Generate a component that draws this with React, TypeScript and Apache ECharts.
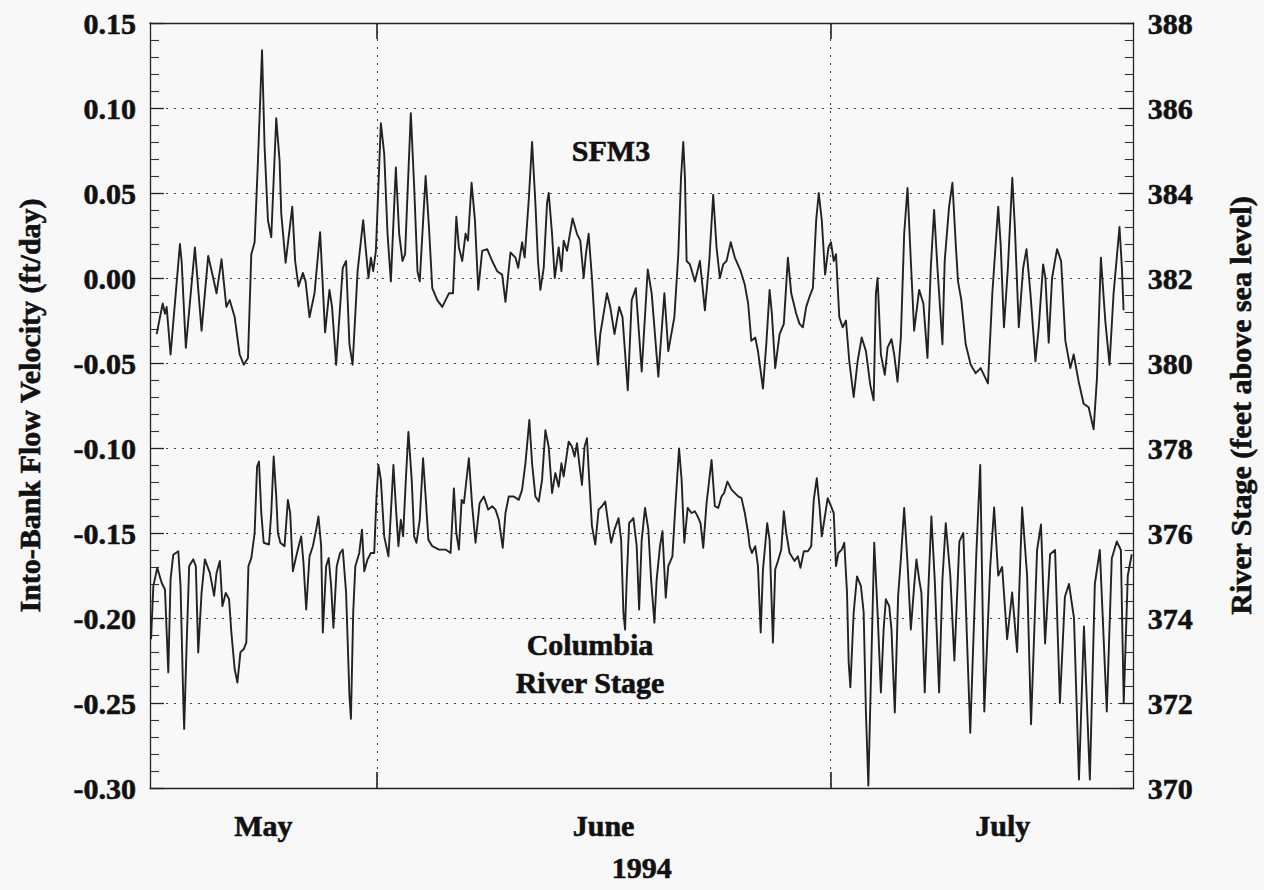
import React, { useEffect, useRef } from "react";
import * as echarts from "echarts";

// x values are days counted from May 1, 1994 (May 1 = 0, June 1 = 31, July 1 = 61)
const xMin = 16;
const xMax = 81.06;
const monthLabels = ["May", "June", "July"];
const monthLabelDays = [23.5, 46, 72.4];
const monthStartDays = [31, 61];
const yearLabel = "1994";
const leftTitle = "Into-Bank Flow Velocity (ft/day)";
const rightTitle = "River Stage (feet above sea level)";

// SFM3 into-bank flow velocity (ft/day): [day, value]
const sfm3: [number, number][] = [
  [16.44,-0.033],[16.84,-0.015],[16.99,-0.021],[17.10,-0.017],[17.36,-0.045],[17.98,0.020],[18.09,0.010],[18.37,-0.041],[18.97,0.018],[19.41,-0.031],[19.85,0.013],[20.18,0.000],[20.40,-0.009],[20.73,0.011],[21.05,-0.017],[21.27,-0.013],[21.60,-0.023],[21.93,-0.045],[22.20,-0.051],[22.48,-0.047],[22.70,0.014],[22.92,0.021],[23.14,0.069],[23.41,0.134],[23.58,0.077],[23.80,0.034],[24.02,0.024],[24.35,0.094],[24.57,0.069],[24.68,0.038],[24.97,0.009],[25.41,0.042],[25.60,0.010],[25.82,-0.005],[26.11,0.003],[26.29,-0.002],[26.55,-0.023],[26.88,-0.009],[27.25,0.027],[27.58,-0.032],[27.87,-0.007],[28.04,-0.017],[28.31,-0.051],[28.75,0.006],[28.97,0.010],[29.19,-0.039],
  [29.40,-0.051],[29.73,0.004],[30.10,0.034],[30.28,0.016],[30.45,0.000],[30.61,0.012],[30.76,0.004],[30.94,0.016],[31.27,0.091],[31.49,0.073],[31.71,0.026],[31.93,-0.002],[32.26,0.065],[32.48,0.026],[32.70,0.010],[32.87,0.014],[33.25,0.097],[33.47,0.054],[33.69,0.004],[33.84,-0.002],[34.23,0.060],[34.45,0.030],[34.67,-0.006],[35.00,-0.013],[35.33,-0.017],[35.77,-0.009],[36.04,-0.009],[36.26,0.036],[36.43,0.018],[36.65,0.010],[36.87,0.026],[37.03,0.022],[37.27,0.056],[37.49,0.034],[37.71,-0.007],[37.97,0.016],[38.30,0.017],[38.63,0.010],[38.96,0.004],[39.29,0.002],[39.51,-0.014],[39.84,0.015],[40.17,0.012],[40.35,0.006],[40.61,0.021],[40.78,0.012],[41.05,0.046],[41.27,0.080],[41.49,0.044],[41.66,0.010],[41.82,-0.007],[42.04,0.006],[42.26,0.044],
  [42.37,0.050],[42.59,0.026],[42.77,0.000],[42.92,0.010],[43.03,0.018],[43.21,0.004],[43.36,0.022],[43.58,0.016],[43.95,0.035],[44.24,0.026],[44.46,0.022],[44.68,0.000],[44.83,0.014],[45.01,0.026],[45.23,0.000],[45.45,-0.033],[45.62,-0.051],[45.78,-0.033],[46.22,-0.009],[46.44,-0.017],[46.72,-0.033],[47.03,-0.017],[47.25,-0.023],[47.60,-0.066],[47.86,-0.013],[48.13,-0.006],[48.52,-0.055],[48.92,0.005],[49.18,-0.009],[49.62,-0.058],[50.02,-0.009],[50.28,-0.043],[50.68,-0.023],[50.94,0.014],[51.12,0.059],[51.27,0.080],[51.38,0.059],[51.49,0.010],[51.71,0.008],[52.04,-0.002],[52.37,0.010],[52.70,-0.019],[52.99,0.010],[53.25,0.049],[53.47,0.018],[53.69,0.000],[53.91,0.008],[54.13,0.010],[54.41,0.021],[54.68,0.012],[55.07,0.004],[55.34,-0.004],[55.56,-0.015],
  [55.77,-0.037],[56.03,-0.035],[56.21,-0.043],[56.54,-0.065],[56.76,-0.039],[56.98,-0.007],[57.13,-0.021],[57.35,-0.053],[57.64,-0.033],[57.92,-0.027],[58.19,0.012],[58.41,-0.009],[58.74,-0.021],[58.96,-0.027],[59.18,-0.029],[59.40,-0.017],[59.62,-0.011],[59.84,-0.006],[60.06,0.034],[60.23,0.050],[60.43,0.034],[60.65,0.002],[60.87,0.018],[61.04,0.021],[61.22,0.010],[61.37,0.014],[61.59,-0.023],[61.81,-0.029],[62.03,-0.025],[62.25,-0.049],[62.54,-0.070],[62.80,-0.049],[63.07,-0.035],[63.35,-0.043],[63.64,-0.063],[63.86,-0.072],[64.01,-0.009],[64.12,0.000],[64.34,-0.045],[64.60,-0.057],[64.78,-0.041],[65.04,-0.036],[65.22,-0.045],[65.44,-0.061],[65.66,-0.035],[65.88,0.026],[66.10,0.053],[66.32,0.010],[66.54,-0.031],[66.87,-0.007],[67.15,-0.015],[67.42,-0.047],[67.64,0.006],[67.86,0.040],[68.08,0.006],[68.41,-0.039],
  [68.56,0.010],[68.85,0.042],[69.07,0.056],[69.29,0.020],[69.44,-0.002],[69.66,-0.013],[69.95,-0.039],[70.28,-0.051],[70.61,-0.056],[70.94,-0.053],[71.42,-0.062],[71.71,-0.009],[72.10,0.042],[72.26,0.020],[72.48,-0.029],[72.74,0.006],[73.03,0.059],[73.20,0.030],[73.46,-0.029],[73.75,0.006],[73.97,0.017],[74.23,-0.009],[74.56,-0.049],[74.78,-0.029],[75.07,0.008],[75.22,0.000],[75.44,-0.038],[75.66,0.000],[75.99,0.017],[76.26,0.010],[76.54,-0.037],[76.87,-0.053],[77.09,-0.045],[77.42,-0.061],[77.75,-0.074],[78.08,-0.076],[78.41,-0.089],[78.63,-0.059],[78.89,0.012],[79.18,-0.025],[79.46,-0.051],[79.73,-0.009],[80.12,0.030],[80.28,0.006],[80.39,-0.019],
];

// Columbia River stage (feet above sea level): [day, value]
const riverStage: [number, number][] = [
  [16.07,373.50],[16.22,374.75],[16.48,375.18],[16.77,374.83],[16.99,374.67],[17.21,372.72],[17.36,374.91],[17.54,375.49],[17.87,375.57],[18.02,374.75],[18.20,372.09],[18.26,371.39],[18.42,373.34],[18.59,375.22],[18.86,375.38],[19.03,375.22],[19.19,373.19],[19.41,374.59],[19.63,375.38],[19.96,375.06],[20.24,374.52],[20.40,375.06],[20.62,375.34],[20.79,374.28],[21.01,374.59],[21.23,374.44],[21.38,373.66],[21.60,372.80],[21.78,372.48],[21.98,373.19],[22.20,373.27],[22.37,373.42],[22.51,375.22],[22.70,375.41],[22.92,376.00],[23.08,377.56],[23.21,377.68],[23.36,376.47],[23.52,375.77],[23.87,375.73],[24.02,376.47],[24.18,377.80],[24.35,376.86],[24.46,376.00],[24.62,375.77],[24.90,375.69],[25.12,376.78],[25.27,376.47],[25.45,375.10],[25.67,375.45],[25.89,375.77],[26.00,375.92],[26.15,375.30],[26.33,374.20],[26.55,375.45],[26.77,375.69],[26.99,376.08],[27.14,376.39],[27.32,375.69],[27.43,373.66],[27.65,375.22],[27.82,375.41],[27.98,374.75],[28.13,373.77],[28.35,375.22],[28.57,375.53],[28.75,375.61],[28.97,374.59],[29.19,372.17],
  [29.29,371.63],[29.44,374.13],[29.58,375.22],[29.84,375.53],[30.02,376.08],[30.17,375.10],[30.39,375.38],[30.61,375.53],[30.83,375.53],[30.98,376.86],[31.11,377.60],[31.27,377.25],[31.49,375.92],[31.77,375.45],[31.93,376.47],[32.10,377.60],[32.26,376.63],[32.43,375.69],[32.59,376.31],[32.74,375.92],[32.92,377.25],[33.09,378.38],[33.31,377.25],[33.47,375.92],[33.62,375.77],[33.84,376.31],[34.06,377.76],[34.23,376.86],[34.41,375.84],[34.67,375.69],[35.11,375.61],[35.55,375.61],[35.88,375.53],[36.10,377.05],[36.26,376.00],[36.43,375.61],[36.61,376.78],[36.76,376.70],[37.09,377.76],[37.31,376.63],[37.53,375.77],[37.80,376.70],[38.08,376.86],[38.37,376.55],[38.63,376.63],[38.85,376.55],[39.07,376.31],[39.33,375.65],[39.51,376.47],[39.73,376.86],[40.06,376.86],[40.39,376.78],[40.61,377.02],[40.83,377.64],[41.09,378.66],[41.27,377.64],[41.49,376.86],[41.71,376.74],[41.93,377.25],[42.15,378.42],[42.37,378.03],
  [42.59,376.94],[42.81,377.41],[43.03,377.09],[43.21,377.64],[43.36,377.33],[43.69,378.15],[43.91,378.03],[44.08,377.80],[44.24,378.11],[44.39,377.64],[44.57,377.13],[44.74,378.03],[44.90,378.23],[45.05,377.25],[45.23,376.16],[45.45,375.73],[45.67,376.55],[45.89,376.63],[46.11,376.74],[46.33,376.16],[46.50,375.77],[46.72,376.08],[46.99,376.35],[47.16,375.84],[47.31,374.13],[47.42,373.73],[47.53,374.91],[47.69,376.23],[47.97,376.35],[48.19,375.69],[48.35,374.20],[48.52,375.84],[48.74,376.59],[48.96,376.08],[49.14,374.91],[49.36,373.89],[49.51,374.91],[49.73,375.69],[49.89,376.04],[50.11,374.48],[50.28,375.22],[50.55,375.45],[50.72,376.47],[50.99,377.99],[51.16,377.25],[51.34,375.77],[51.56,376.59],[51.82,376.47],[52.04,376.51],[52.22,376.39],[52.41,376.23],[52.59,375.65],[52.81,376.70],[53.14,377.72],[53.36,376.63],[53.58,376.59],[53.80,376.86],[53.97,376.94],[54.19,377.21],[54.46,377.02],[54.90,376.86],[55.12,376.82],[55.34,376.47],[55.56,376.00],
  [55.66,375.69],[55.81,375.53],[56.03,375.69],[56.21,375.22],[56.39,373.66],[56.54,375.14],[56.82,376.23],[56.98,375.84],[57.20,373.42],[57.35,375.14],[57.53,375.34],[57.75,375.61],[57.92,376.51],[58.08,376.00],[58.30,375.53],[58.63,375.34],[58.85,375.45],[59.02,375.18],[59.24,375.57],[59.51,375.57],[59.73,375.69],[59.90,376.78],[60.10,377.29],[60.28,376.63],[60.43,375.92],[60.60,376.31],[60.82,376.82],[61.04,376.63],[61.22,376.47],[61.37,375.22],[61.53,375.53],[61.75,375.61],[61.92,375.77],[62.10,374.59],[62.21,372.95],[62.32,372.37],[62.54,374.13],[62.76,374.98],[63.02,374.75],[63.20,374.13],[63.35,371.78],[63.51,370.06],[63.68,372.56],[63.90,375.77],[64.12,374.13],[64.34,372.25],[64.52,373.73],[64.67,374.44],[64.89,374.28],[65.04,373.73],[65.26,371.78],[65.48,374.52],[65.66,375.38],[65.88,376.59],[66.10,375.30],[66.32,373.73],[66.54,374.75],[66.69,375.38],[66.87,374.91],[67.02,374.59],[67.24,372.25],[67.46,374.52],[67.68,376.39],[67.90,374.91],[68.19,372.25],[68.41,374.91],[68.63,376.23],
  [68.93,375.0],[69.20,373.0],[69.53,375.8],[69.79,376.0],[70.25,371.3],[70.65,375.5],[70.91,377.6],[71.18,371.8],[71.57,375.2],[71.83,376.6],[72.10,375.0],[72.36,375.2],[72.69,373.5],[73.02,374.6],[73.35,373.2],[73.68,376.6],[74.01,375.0],[74.27,371.5],[74.67,375.6],[74.93,376.2],[75.20,373.4],[75.53,375.5],[75.86,375.6],[76.18,372.0],[76.51,374.5],[76.78,374.8],[77.11,374.0],[77.44,370.2],[77.77,373.8],[78.16,370.2],[78.49,374.8],[78.82,375.6],[79.28,371.8],[79.61,375.4],[79.94,375.8],[80.21,375.6],[80.40,372.0],[80.67,375.0],[80.93,375.5],
];

const FONT = '"Liberation Serif", "Times New Roman", serif';

export default function App() {
  const ref = useRef<HTMLDivElement>(null);

  useEffect(() => {
    document.body.style.margin = "0";
    const chart = echarts.init(ref.current as HTMLDivElement, null, { renderer: "svg" });
    const text = {
      fontFamily: FONT,
      fontWeight: "bold" as const,
      fontSize: 30,
      color: "#111",
      textBorderColor: "#111",
      textBorderWidth: 0.6,
    };
    const frame = { color: "#222", width: 1.3 };
    const dotted = { show: true, lineStyle: { color: "#444", width: 1.1, type: [2, 6] } };
    const monthName = (v: number) => {
      let best = 0;
      monthLabelDays.forEach((d, i) => {
        if (Math.abs(d - v) < Math.abs(monthLabelDays[best] - v)) best = i;
      });
      return Math.abs(monthLabelDays[best] - v) < 0.5 ? monthLabels[best] : "";
    };

    chart.setOption({
      animation: false,
      backgroundColor: "#f8f8f8",
      grid: { left: 150, right: 127, top: 23, bottom: 102 },
      xAxis: [
        {
          type: "value",
          position: "bottom",
          min: xMin,
          max: xMax,
          name: yearLabel,
          nameLocation: "middle",
          nameGap: 64,
          nameTextStyle: text,
          axisLine: { show: true, onZero: false, lineStyle: frame },
          axisTick: { show: true, inside: true, length: 16, customValues: monthStartDays, lineStyle: { color: "#222", width: 1.6 } },
          axisLabel: { show: true, customValues: monthLabelDays, formatter: monthName, margin: 22, ...text },
          splitLine: dotted,
        },
        {
          type: "value",
          position: "top",
          min: xMin,
          max: xMax,
          axisLine: { show: true, onZero: false, lineStyle: frame },
          axisTick: { show: true, inside: true, length: 16, customValues: monthStartDays, lineStyle: { color: "#222", width: 1.6 } },
          axisLabel: { show: false },
          splitLine: { show: false },
        },
      ],
      yAxis: [
        {
          type: "value",
          position: "left",
          min: -0.3,
          max: 0.15,
          interval: 0.05,
          name: leftTitle,
          nameLocation: "middle",
          nameRotate: 90,
          nameGap: 106,
          nameTextStyle: text,
          axisLine: { show: true, onZero: false, lineStyle: frame },
          axisTick: { show: true, inside: true, length: 14, lineStyle: { color: "#222", width: 1.3 } },
          minorTick: { show: true, splitNumber: 5, length: 9, lineStyle: { color: "#333", width: 1.1 } },
          axisLabel: {
            margin: 14,
            formatter: (v: number) => {
              const r = Math.round(v * 100) / 100;
              return (r === 0 ? 0 : r).toFixed(2);
            },
            ...text,
          },
          splitLine: dotted,
        },
        {
          type: "value",
          position: "right",
          min: 370,
          max: 388,
          interval: 2,
          name: rightTitle,
          nameLocation: "middle",
          nameRotate: 90,
          nameGap: 92,
          nameTextStyle: text,
          axisLine: { show: true, onZero: false, lineStyle: frame },
          axisTick: { show: true, inside: true, length: 14, lineStyle: { color: "#222", width: 1.3 } },
          minorTick: { show: true, splitNumber: 5, length: 9, lineStyle: { color: "#333", width: 1.1 } },
          axisLabel: { margin: 14, formatter: (v: number) => String(Math.round(v)), ...text },
          splitLine: { show: false },
        },
      ],
      series: [
        {
          type: "line",
          name: "SFM3",
          xAxisIndex: 0,
          yAxisIndex: 0,
          data: sfm3,
          showSymbol: false,
          symbol: "none",
          silent: true,
          lineStyle: { color: "#222", width: 1.9, join: "round" },
        },
        {
          type: "line",
          name: "Columbia River Stage",
          xAxisIndex: 0,
          yAxisIndex: 1,
          data: riverStage,
          showSymbol: false,
          symbol: "none",
          silent: true,
          lineStyle: { color: "#222", width: 1.9, join: "round" },
        },
      ],
      graphic: [
        {
          type: "text",
          x: 611,
          y: 150,
          silent: true,
          style: {
            text: "SFM3",
            align: "center",
            verticalAlign: "middle",
            fontFamily: FONT,
            fontWeight: "bold",
            fontSize: 30,
            fill: "#111",
            stroke: "#111",
            lineWidth: 0.6,
          },
        },
        {
          type: "text",
          x: 590,
          y: 663,
          silent: true,
          style: {
            text: "Columbia\nRiver Stage",
            align: "center",
            verticalAlign: "middle",
            lineHeight: 38,
            fontFamily: FONT,
            fontWeight: "bold",
            fontSize: 30,
            fill: "#111",
            stroke: "#111",
            lineWidth: 0.6,
          },
        },
      ],
    });

    return () => chart.dispose();
  }, []);

  return <div ref={ref} style={{ width: 1264, height: 890 }} />;
}
